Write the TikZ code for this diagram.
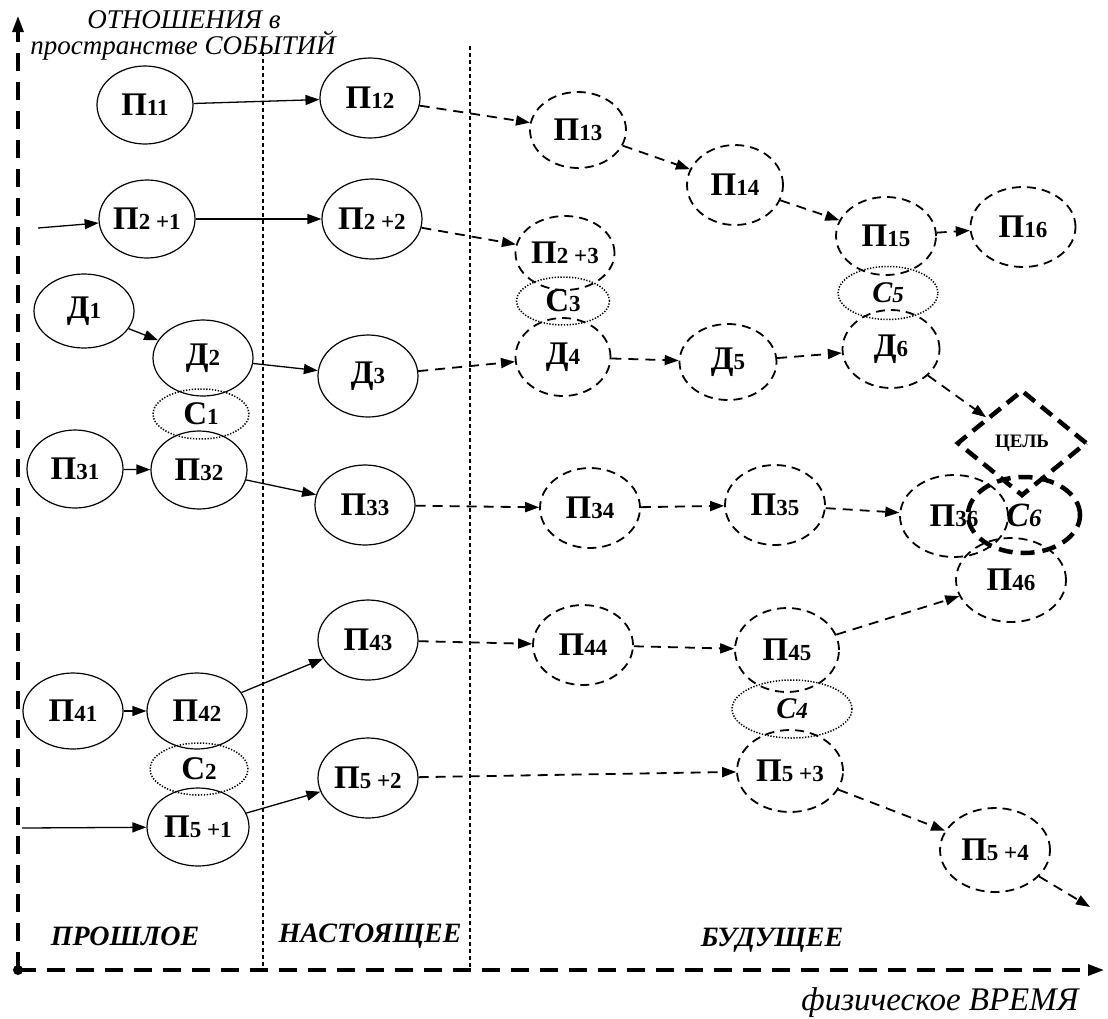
\documentclass[tikz,border=0pt]{standalone}
\usepackage{fontspec}
\setmainfont{Liberation Serif}
\usetikzlibrary{shapes.geometric,arrows.meta}
\newcommand\mylbl[2]{{\fontsize{33}{33}\selectfont\bfseries #1}{\fontsize{23}{23}\selectfont\bfseries #2}}
\begin{document}
\begin{tikzpicture}[x=1pt,y=-1pt,
  sn/.style={ellipse,draw,line width=1.2pt,inner sep=0pt},
  dn/.style={ellipse,draw,line width=1.8pt,dash pattern=on 9pt off 6pt,inner sep=0pt},
  cn/.style={ellipse,draw,line width=1.5pt,dash pattern=on 1.3pt off 1.6pt,inner sep=0pt},
  sarr/.style={-{Triangle[length=14pt,width=10pt]},line width=1.3pt},
  darr/.style={-{Triangle[length=14pt,width=10pt]},line width=1.8pt,dash pattern=on 10pt off 7pt},
  axis/.style={line width=3.2pt,dash pattern=on 18pt off 11pt},
  sep/.style={line width=1.2pt,dash pattern=on 4pt off 3pt},
  ttl/.style={font=\fontsize{27}{27}\selectfont\itshape},
  era/.style={font=\fontsize{28}{28}\selectfont\bfseries\itshape}]
\useasboundingbox (0,0) rectangle (1108,1018);
% axes
\coordinate (O) at (18,970);
\coordinate (Ytop) at (18,16);
\coordinate (Xend) at (1104,970);
\draw[axis,-{Triangle[length=16pt,width=11pt]}] (O) -- (Ytop);
\draw[axis,-{Triangle[length=16pt,width=11pt]}] (O) -- (Xend);
\fill (O) circle (5);
% separators
\coordinate (s1t) at (263,52); \coordinate (s1b) at (263,970);
\coordinate (s2t) at (470,46); \coordinate (s2b) at (470,970);
\draw[sep] (s1t) -- (s1b);
\draw[sep] (s2t) -- (s2b);
% titles
\node[ttl] (t1) at (184,20) {ОТНОШЕНИЯ в};
\node[ttl] (t2) at (183,46) {пространстве СОБЫТИЙ};
\node[era] (e1) at (125,936) {ПРОШЛОЕ};
\node[era] (e2) at (370,936) {НАСТОЯЩЕЕ};
\node[era] (e3) at (772,940) {БУДУЩЕЕ};
\node[font=\fontsize{33}{33}\selectfont\itshape] (tx) at (940,1003) {физическое ВРЕМЯ};
% past nodes
\node[sn,minimum width=96pt,minimum height=78pt] (p11) at (145,105) {\mylbl{П}{11}};
\node[sn,minimum width=96pt,minimum height=78pt] (p21) at (147,219) {\mylbl{П}{2 +1}};
\node[sn,minimum width=100pt,minimum height=74pt] (d1) at (84,311) {\mylbl{Д}{1}};
\node[sn,minimum width=100pt,minimum height=76pt] (d2) at (203,358) {\mylbl{Д}{2}};
\node[cn,minimum width=96pt,minimum height=50pt] (c1) at (201,414) {\mylbl{С}{1}};
\node[sn,minimum width=96pt,minimum height=78pt] (p31) at (75,469) {\mylbl{П}{31}};
\node[sn,minimum width=96pt,minimum height=78pt] (p32) at (199,470) {\mylbl{П}{32}};
\node[sn,minimum width=100pt,minimum height=76pt] (p41) at (73,711) {\mylbl{П}{41}};
\node[sn,minimum width=100pt,minimum height=76pt] (p42) at (197,711) {\mylbl{П}{42}};
\node[cn,minimum width=98pt,minimum height=52pt] (c2) at (199,769) {\mylbl{С}{2}};
\node[sn,minimum width=102pt,minimum height=78pt] (p51) at (198,827) {\mylbl{П}{5 +1}};
% present nodes
\node[sn,minimum width=100pt,minimum height=80pt] (p12) at (370,98) {\mylbl{П}{12}};
\node[sn,minimum width=100pt,minimum height=80pt] (p22) at (372,219) {\mylbl{П}{2 +2}};
\node[sn,minimum width=100pt,minimum height=82pt] (d3) at (368,376) {\mylbl{Д}{3}};
\node[sn,minimum width=100pt,minimum height=80pt] (p33) at (365,505) {\mylbl{П}{33}};
\node[sn,minimum width=100pt,minimum height=80pt] (p43) at (368,640) {\mylbl{П}{43}};
\node[sn,minimum width=100pt,minimum height=80pt] (p52) at (368,778) {\mylbl{П}{5 +2}};
% future nodes
\node[dn,minimum width=96pt,minimum height=76pt] (p13) at (578,130) {\mylbl{П}{13}};
\node[dn,minimum width=96pt,minimum height=80pt] (p14) at (735,185) {\mylbl{П}{14}};
\node[dn,minimum width=100pt,minimum height=78pt] (p15) at (886,236) {\mylbl{П}{15}};
\node[dn,minimum width=105pt,minimum height=80pt] (p16) at (1023,227) {\mylbl{П}{16}};
\node[cn,minimum width=100pt,minimum height=53pt] (c5) at (888,293) {\fontsize{30}{30}\selectfont\bfseries\itshape C\fontsize{23}{23}\selectfont 5};
\node[dn,minimum width=97pt,minimum height=78pt] (d6) at (891,349) {\mylbl{Д}{6}};
\node[dn,minimum width=99pt,minimum height=74pt] (p23) at (565,253) {\mylbl{П}{2 +3}};
\node[cn,minimum width=93pt,minimum height=48pt] (c3) at (563,301) {\mylbl{С}{3}};
\node[dn,minimum width=95pt,minimum height=78pt] (d4) at (563,357) {\mylbl{Д}{4}};
\node[dn,minimum width=97pt,minimum height=76pt] (d5) at (728,362) {\mylbl{Д}{5}};
\node[dn,minimum width=100pt,minimum height=80pt] (p34) at (590,508) {\mylbl{П}{34}};
\node[dn,minimum width=100pt,minimum height=80pt] (p35) at (775,505) {\mylbl{П}{35}};
\node[dn,minimum width=108pt,minimum height=82pt] (p36) at (954,516) {\mylbl{П}{36}};
\node[draw,diamond,line width=4.5pt,dash pattern=on 14pt off 8pt,inner sep=0pt,minimum width=130pt,minimum height=106pt] (goal) at (1022,443) {\fontsize{19}{19}\selectfont\bfseries ЦЕЛЬ};
\node[ellipse,draw,line width=4.5pt,dash pattern=on 14pt off 8pt,inner sep=0pt,minimum width=112pt,minimum height=76pt] (c6) at (1024,515) {\fontsize{34}{34}\selectfont\bfseries\itshape C\fontsize{25}{25}\selectfont 6};
\node[dn,minimum width=110pt,minimum height=84pt] (p46) at (1011,580) {\mylbl{П}{46}};
\node[dn,minimum width=100pt,minimum height=80pt] (p44) at (583,645) {\mylbl{П}{44}};
\node[dn,minimum width=104pt,minimum height=84pt] (p45) at (787,650) {\mylbl{П}{45}};
\node[cn,minimum width=120pt,minimum height=58pt] (c4) at (792,709) {\fontsize{30}{30}\selectfont\bfseries\itshape C\fontsize{23}{23}\selectfont 4};
\node[dn,minimum width=106pt,minimum height=82pt] (p53) at (790,771) {\mylbl{П}{5 +3}};
\node[dn,minimum width=110pt,minimum height=84pt] (p54) at (995,850) {\mylbl{П}{5 +4}};
% free ends
\coordinate (f21) at (38,228);
\coordinate (f51) at (22,828);
\coordinate (fend) at (1090,907);
% solid arrows
\draw[sarr] (p11) -- (p12);
\draw[sarr] (f21) -- (p21);
\draw[sarr] (p21) -- (p22);
\draw[sarr] (d1) -- (d2);
\draw[sarr] (d2) -- (d3);
\draw[sarr] (p31) -- (p32);
\draw[sarr] (p32) -- (p33);
\draw[sarr] (p41) -- (p42);
\draw[sarr] (p42) -- (p43);
\draw[sarr] (f51) -- (p51);
\draw[sarr] (p51) -- (p52);
% dashed arrows
\draw[darr] (p12) -- (p13);
\draw[darr] (p13) -- (p14);
\draw[darr] (p14) -- (p15);
\draw[darr] (p15) -- (p16);
\draw[darr] (p22) -- (p23);
\draw[darr] (d3) -- (d4);
\draw[darr] (d4) -- (d5);
\draw[darr] (d5) -- (d6);
\draw[darr] (d6) -- (goal);
\draw[darr] (p33) -- (p34);
\draw[darr] (p34) -- (p35);
\draw[darr] (p35) -- (p36);
\draw[darr] (p43) -- (p44);
\draw[darr] (p44) -- (p45);
\draw[darr] (p45) -- (p46);
\draw[darr] (p52) -- (p53);
\draw[darr] (p53) -- (p54);
\draw[darr] (p54) -- (fend);
\end{tikzpicture}
\end{document}
